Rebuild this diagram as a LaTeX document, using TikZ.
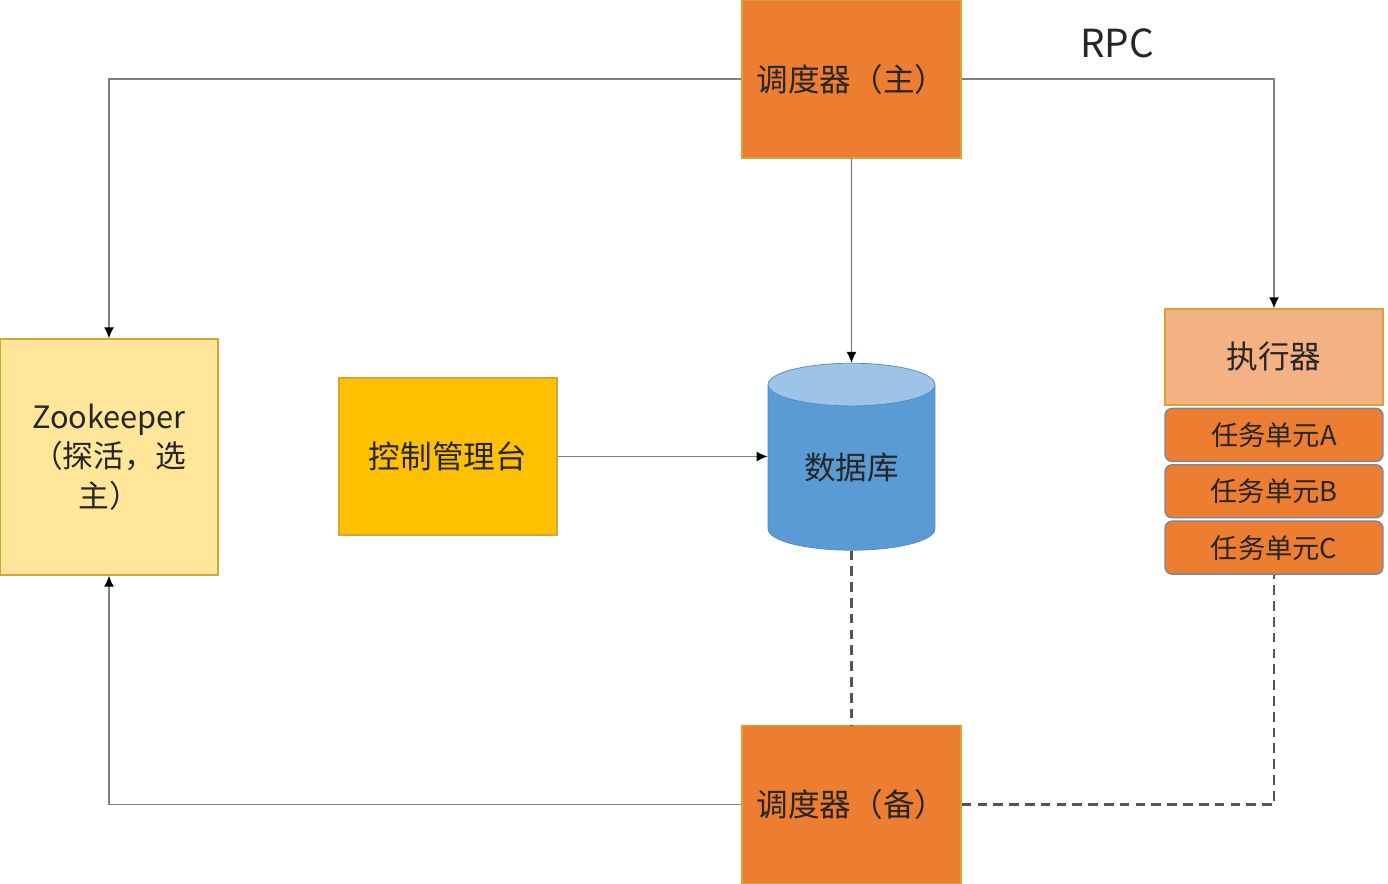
\documentclass[tikz,border=0pt]{standalone}
\usepackage{fontspec}
\setmainfont{Noto Sans CJK SC}
\usetikzlibrary{shapes.geometric, arrows.meta, positioning}
\definecolor{nOrange}{RGB}{237,125,49}
\definecolor{nPeach}{RGB}{244,177,131}
\definecolor{nCream}{RGB}{255,230,153}
\definecolor{nAmber}{RGB}{255,192,0}
\definecolor{nGold}{RGB}{214,164,52}
\definecolor{nBlue}{RGB}{91,155,213}
\definecolor{nSky}{RGB}{157,195,230}
\definecolor{nBlueEdge}{RGB}{80,135,190}
\definecolor{nSlate}{RGB}{120,135,155}
\definecolor{nLine}{RGB}{128,128,128}
\definecolor{nDash}{RGB}{85,85,85}
\definecolor{nText}{RGB}{38,38,38}
\tikzstyle{box}   = [rectangle, draw=nGold, line width=0.8pt, inner sep=0pt,
text=nText, align=center, font=\fontsize{18}{22.5}\selectfont]
\tikzstyle{sched} = [box, fill=nOrange, minimum width=4.38cm, minimum height=3.16cm]
\tikzstyle{task}  = [box, fill=nOrange, draw=nSlate, rounded corners=4pt,
minimum width=4.36cm, minimum height=1.06cm, font=\fontsize{15.5}{18}\selectfont]
\tikzstyle{arrow} = [-{Latex[length=2.2mm, width=2mm, color=black]}, draw=nLine, line width=0.8pt]
\tikzstyle{dline} = [draw=nDash, line width=1.6pt, dash pattern=on 5.5pt off 3.5pt]

\begin{document}
\begin{tikzpicture}[x=0.02cm, y=-0.02cm]
      \useasboundingbox (0,0) rectangle (1388,884);

      \node(Sm)  [sched] at (851.5,79)  {调度器（主）};
      \node(Sb)  [sched] at (851.5,804.5) {调度器（备）};

      \node(Zk)  [box, fill=nCream, minimum width=4.36cm, minimum height=4.72cm,
                  font=\fontsize{17.5}{22.5}\selectfont]
                 at (109,457) {Zookeeper\\（探活，选\\主）};
      \node(Con) [box, fill=nAmber, minimum width=4.36cm, minimum height=3.14cm]
                 at (448,456.5) {控制管理台};
      \node(Db)  [cylinder, shape border rotate=90, aspect=0.4, draw=nBlueEdge,
                  cylinder uses custom fill, cylinder body fill=nBlue, cylinder end fill=nSky,
                  minimum height=3.74cm, minimum width=3.34cm, text=nText,
                  font=\fontsize{18}{22.5}\selectfont] at (851.5,471.5)
                 {\raisebox{-0.17cm}[0pt][0pt]{数据库}};

      \node(Ex)  [box, fill=nPeach, minimum width=4.36cm, minimum height=1.92cm]
                 at (1274,357) {执行器};
      \node(Ta)  [task, below=0.04cm of Ex] {任务单元A};
      \node(Tb)  [task, below=0.04cm of Ta] {任务单元B};
      \node(Tc)  [task, below=0.04cm of Tb] {任务单元C};

      \node(Rpc) [text=nText, font=\fontsize{22}{26}\selectfont] at (1117,43) {RPC};

      \draw [arrow] (Sm.west)  -| (Zk.north);
      \draw [arrow] (Sm.east)  -| (Ex.north);
      \draw [arrow] (Sm.south) -- (Db.north);
      \draw [arrow] (Con.east) -- (Con.east -| Db.west);
      \draw [arrow] (Sb.west)  -| (Zk.south);
      \draw [dline] (Db.south) -- (Sb.north);
      \draw [dline] (Sb.east)  -| (Tc.south);
    \end{tikzpicture}
\end{document}
